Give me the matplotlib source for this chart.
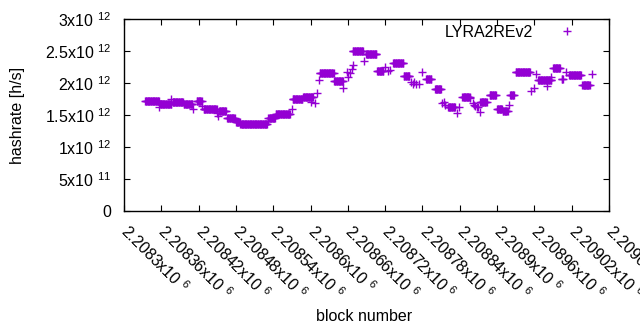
import numpy as np
import matplotlib
matplotlib.use("Agg")
import matplotlib.pyplot as plt
from matplotlib.ticker import FixedLocator, FixedFormatter

# runs of blocks with the same hashrate estimate (first block, last block, value)
run_first = [2208334, 2208358, 2208378, 2208396, 2208417, 2208428, 2208453, 2208466,
             2208480, 2208487, 2208532, 2208544, 2208571, 2208588, 2208615, 2208638,
             2208668, 2208689, 2208707, 2208733, 2208750, 2208786, 2208800, 2208821,
             2208844, 2208873, 2208888, 2208900, 2208909, 2208921, 2208930, 2208966,
             2208990, 2209004, 2209016, 2209037]
run_last = [2208356, 2208376, 2208395, 2208410, 2208425, 2208449, 2208464, 2208478,
            2208486, 2208530, 2208543, 2208567, 2208587, 2208604, 2208637, 2208652,
            2208684, 2208706, 2208717, 2208749, 2208759, 2208794, 2208810, 2208832,
            2208856, 2208883, 2208898, 2208908, 2208917, 2208927, 2208953, 2208987,
            2209001, 2209006, 2209035, 2209049]
run_value = [1.717, 1.665, 1.70, 1.665, 1.717, 1.59, 1.56, 1.46,
             1.39, 1.355, 1.446, 1.513, 1.744, 1.785, 2.15, 2.025,
             2.50, 2.448, 2.18, 2.32, 2.115, 2.06, 1.90, 1.63,
             1.78, 1.706, 1.81, 1.59, 1.56, 1.805, 2.166, 2.045,
             2.228, 2.07, 2.12, 1.965]

# single blocks between the runs
single_block = [2208357, 2208375, 2208411, 2208425, 2208450, 2208451, 2208531,
                2208570, 2208601, 2208607, 2208611, 2208614, 2208652, 2208658,
                2208660, 2208663, 2208667, 2208668, 2208686, 2208719, 2208724,
                2208727, 2208761, 2208764, 2208767, 2208770, 2208774, 2208780,
                2208812, 2208814, 2208817, 2208835, 2208839, 2208857, 2208861,
                2208863, 2208865, 2208867, 2208869, 2208873, 2208919, 2208955,
                2208960, 2208963, 2208981, 2208986, 2209011, 2209052]
single_value = [1.63, 1.75, 1.587, 1.64, 1.525, 1.49, 1.40,
                1.587, 1.706, 1.69, 1.84, 2.046, 1.916, 2.17,
                2.10, 2.16, 2.22, 2.28, 2.34, 2.245, 2.19,
                2.21, 2.02, 1.99, 2.01, 1.98, 1.99, 2.166,
                1.68, 1.70, 1.66, 1.525, 1.62, 1.76, 1.68,
                1.66, 1.64, 1.63, 1.62, 1.55, 1.655, 1.87,
                1.92, 2.14, 1.95, 2.09, 2.17, 2.14]

xtick_values = list(range(2208300, 2209081, 60))
ytick_values = [0, 0.5e12, 1e12, 1.5e12, 2e12, 2.5e12, 3e12]
ytick_labels = ["0", "5x10 $^{11}$", "1x10 $^{12}$", "1.5x10 $^{12}$",
                "2x10 $^{12}$", "2.5x10 $^{12}$", "3x10 $^{12}$"]


def xtick_text(b):
    return "%gx10 $^{6}$" % (b / 1e6)


blocks = []
hashrate = []
for first, last, v in zip(run_first, run_last, run_value):
    for b in range(first, last + 1):
        blocks.append(b)
        hashrate.append(v * 1e12)
for b, v in zip(single_block, single_value):
    blocks.append(b)
    hashrate.append(v * 1e12)

plt.rcParams['font.family'] = ['Liberation Sans', 'DejaVu Sans']
plt.rcParams['mathtext.fontset'] = 'custom'
plt.rcParams['mathtext.rm'] = 'Liberation Sans'
plt.rcParams['font.size'] = 11.5

fig = plt.figure(figsize=(6.4, 3.3), dpi=100)
ax = fig.add_axes([124 / 640, 119 / 330, 485 / 640, 192 / 330])

ax.plot(blocks, hashrate, linestyle='none', marker='+', ms=5.8, mew=1,
        color='#9400d3', label='LYRA2REv2')

ax.set_xlim(xtick_values[0], xtick_values[-1])
ax.set_ylim(0, 3e12)
ax.xaxis.set_major_locator(FixedLocator(xtick_values))
ax.xaxis.set_major_formatter(FixedFormatter([xtick_text(b) for b in xtick_values]))
ax.yaxis.set_major_locator(FixedLocator(ytick_values))
ax.yaxis.set_major_formatter(FixedFormatter(ytick_labels))

ax.tick_params(direction='in', length=4, width=0.8, top=True, right=True)
ax.tick_params(axis='y', pad=9)
ax.tick_params(axis='x', pad=12)
for lab in ax.get_xticklabels():
    lab.set_rotation(-45)
    lab.set_ha('left')
    lab.set_va('center')
    lab.set_rotation_mode('anchor')
for s in ax.spines.values():
    s.set_linewidth(1)

ax.set_ylabel('hashrate [h/s]')
ax.set_xlabel('block number')
ax.yaxis.set_label_coords(-0.205, 0.5)
ax.xaxis.set_label_coords(0.495, -0.51)

ax.legend(loc='center right', bbox_to_anchor=(0.946, 0.932), frameon=False,
          markerfirst=False, handletextpad=1.1, handlelength=2,
          borderpad=0, borderaxespad=0)

fig.savefig('out.png', dpi=100)
